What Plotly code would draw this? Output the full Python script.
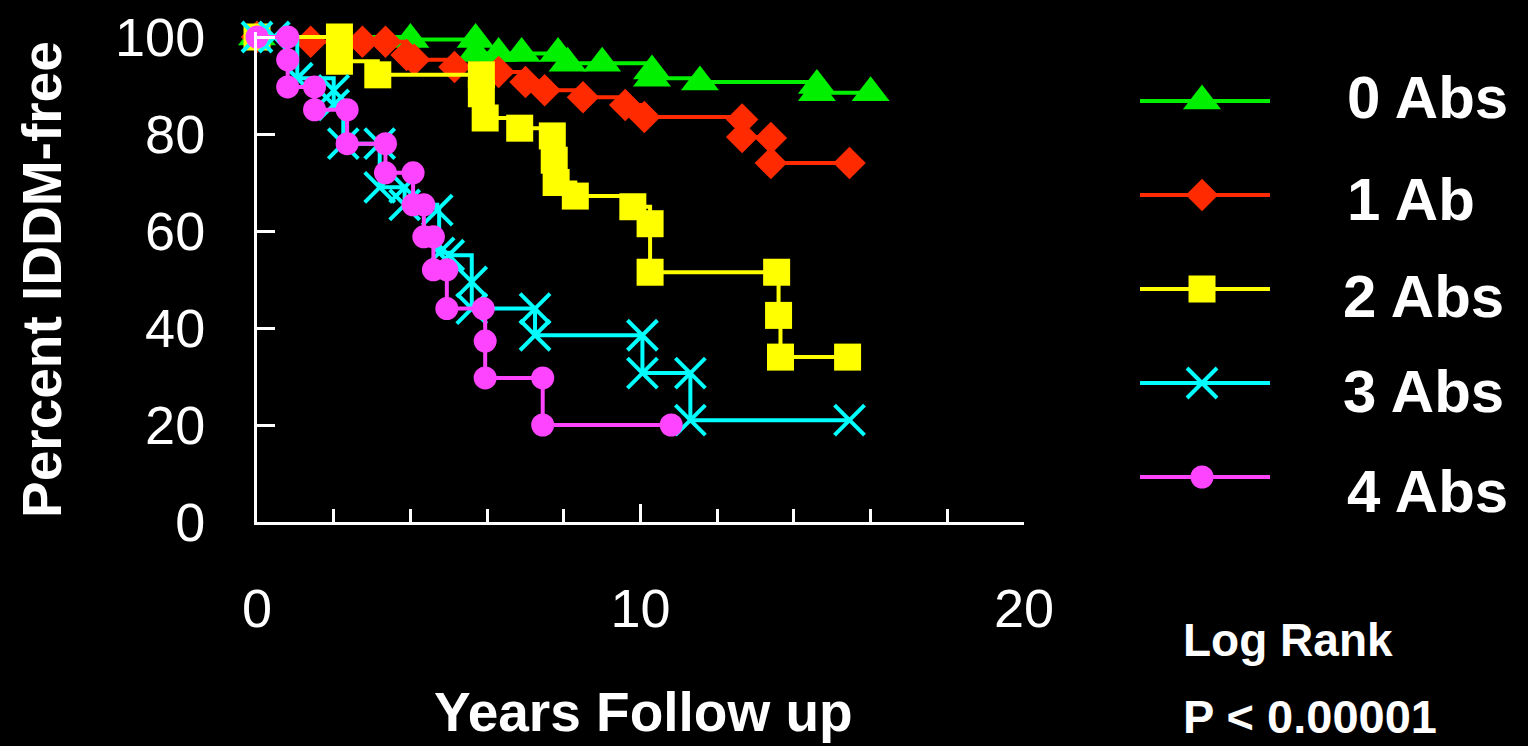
import plotly.graph_objects as go

# Kaplan-Meier style step curves: years of follow-up vs percent IDDM-free
years_0 = [0, 4.0, 5.7, 5.7, 6.3, 6.9, 7.85, 8.1, 9.0, 10.3, 10.3, 11.55, 14.6, 14.6, 16.0]
pct_0 = [100, 99.5, 99.5, 96.6, 96.6, 96.6, 96.6, 94.6, 94.6, 93.0, 91.5, 90.7, 90.0, 88.5, 88.5]

years_1 = [0, 1.4, 2.75, 3.35, 3.9, 4.1, 5.15, 6.3, 7.0, 7.5, 8.5, 9.6, 10.1, 12.65, 12.65, 13.4, 13.4, 15.45]
pct_1 = [100, 99, 99, 99, 96.3, 95.3, 93.8, 92.8, 90.7, 89, 87.6, 86, 83.5, 83, 79.4, 79.2, 74, 74]

years_2 = [0, 2.15, 2.15, 3.15, 5.85, 5.85, 5.95, 6.85, 7.7, 7.75, 7.8, 8.3, 9.8, 10.25, 10.25, 13.55, 13.6, 13.65, 15.4]
pct_2 = [100, 100, 95, 92.2, 92.2, 88.3, 83.3, 81.2, 79.6, 74.6, 70, 67.2, 65, 61.5, 51.5, 51.5, 42.6, 34, 34]

years_3 = [0, 0.45, 1.05, 2.0, 2.0, 2.25, 3.2, 3.2, 3.85, 3.85, 4.7, 4.75, 5.0, 5.6, 5.6, 7.25, 7.25, 10.05, 10.05, 11.3, 11.3, 15.45]
pct_3 = [100, 100, 91.5, 89, 86, 78, 78, 69, 69, 65.4, 64.3, 55.5, 55, 49.5, 44, 44, 38.5, 38.5, 30.7, 30.7, 21, 21]

years_4 = [0, 0.8, 0.8, 0.8, 1.5, 1.5, 2.35, 2.35, 3.35, 3.35, 4.07, 4.07, 4.35, 4.35, 4.6, 4.6, 4.95, 4.95, 5.9, 5.95, 5.95, 7.45, 7.45, 10.8]
pct_4 = [100, 100, 95.3, 89.7, 89.7, 85, 85, 78, 78, 72, 72, 65.4, 65.4, 58.8, 58.8, 52, 52, 44, 44, 37.3, 29.7, 29.7, 20, 20]

group_names = ["0 Abs", "1 Ab", "2 Abs", "3 Abs", "4 Abs"]
x_ticks = [0, 10, 20]
y_ticks = [0, 20, 40, 60, 80, 100]

W, H = 1528, 746
FONT = "Liberation Sans, Arial, Helvetica, sans-serif"

styles = [
    dict(color="#00f000", symbol="triangle-up", size=33, lw=0),
    dict(color="#ff2a00", symbol="diamond", size=25, lw=0),
    dict(color="#ffff00", symbol="square", size=27, lw=0),
    dict(color="#00ffff", symbol="x-thin", size=30, lw=4),
    dict(color="#ff44ff", symbol="circle", size=23, lw=0),
]
series = [(years_0, pct_0), (years_1, pct_1), (years_2, pct_2), (years_3, pct_3), (years_4, pct_4)]


def px_x(p):
    return p / W


def px_y(p):
    return 1 - p / H


fig = go.Figure()

for (xs, ys), st, name in zip(series, styles, group_names):
    fig.add_trace(go.Scatter(
        x=xs, y=ys, mode="lines+markers", name=name,
        line=dict(color=st["color"], width=4, shape="hv"),
        marker=dict(symbol=st["symbol"], size=st["size"], color=st["color"],
                    line=dict(color=st["color"], width=st["lw"])),
        cliponaxis=False, showlegend=False,
    ))

# hand-built key on its own small axis pair
for i, (st, name) in enumerate(zip(styles, group_names)):
    fig.add_trace(go.Scatter(
        x=[0, 1], y=[i, i], mode="lines", xaxis="x2", yaxis="y2",
        line=dict(color=st["color"], width=4), showlegend=False, hoverinfo="skip",
    ))
    fig.add_trace(go.Scatter(
        x=[0.477], y=[i], mode="markers", xaxis="x2", yaxis="y2",
        marker=dict(symbol=st["symbol"], size=st["size"], color=st["color"],
                    line=dict(color=st["color"], width=st["lw"])),
        showlegend=False, cliponaxis=False, hoverinfo="skip",
    ))

label_rows = [98, 200, 297, 391, 491]
label_left = [1345, 1345, 1341, 1341, 1345]
annotations = []
for name, yy, xx in zip(group_names, label_rows, label_left):
    annotations.append(dict(
        text=f"<b>{name}</b>", x=px_x(xx), y=px_y(yy), xref="paper", yref="paper",
        xanchor="left", yanchor="middle", showarrow=False,
        font=dict(family=FONT, size=60, color="white"),
    ))

annotations += [
    dict(text="<b>Percent IDDM-free</b>", x=px_x(42), y=px_y(280), xref="paper", yref="paper",
         textangle=-90, xanchor="center", yanchor="middle", showarrow=False,
         font=dict(family=FONT, size=55, color="white")),
    dict(text="<b>Years Follow up</b>", x=px_x(643), y=px_y(712), xref="paper", yref="paper",
         xanchor="center", yanchor="middle", showarrow=False,
         font=dict(family=FONT, size=55, color="white")),
    dict(text="<b>Log Rank</b>", x=px_x(1181), y=px_y(640), xref="paper", yref="paper",
         xanchor="left", yanchor="middle", showarrow=False,
         font=dict(family=FONT, size=46, color="white")),
    dict(text="<b>P < 0.00001</b>", x=px_x(1181), y=px_y(716), xref="paper", yref="paper",
         xanchor="left", yanchor="middle", showarrow=False,
         font=dict(family=FONT, size=47, color="white")),
]

axis_common = dict(showgrid=False, zeroline=False, showline=True, linecolor="white",
                   linewidth=3, ticks="inside", tickcolor="white", tickwidth=3,
                   automargin=False,
                   tickfont=dict(family=FONT, size=54, color="white"))

# 100 % sits at pixel row 37 and 0 % at 522; a little headroom keeps top lines unclipped
y_top = 101
y_top_px = 522 - (522 - 37) * y_top / 100

fig.update_layout(
    width=W, height=H, template="none",
    paper_bgcolor="black", plot_bgcolor="black",
    margin=dict(l=0, r=0, t=0, b=0),
    showlegend=False,
    xaxis=dict(domain=[px_x(257), px_x(1024)], range=[0, 20],
               tickvals=x_ticks, ticktext=[str(v) for v in x_ticks],
               ticklen=18, ticklabelstandoff=37,
               minor=dict(dtick=2, ticks="inside", ticklen=13, tickcolor="white", tickwidth=3),
               **axis_common),
    yaxis=dict(domain=[px_y(522), px_y(y_top_px)], range=[0, y_top],
               tickvals=y_ticks, ticktext=[str(v) for v in y_ticks],
               ticklen=18, ticklabelstandoff=38,
               **axis_common),
    xaxis2=dict(domain=[px_x(1140), px_x(1270)], range=[0, 1], visible=False, anchor="y2"),
    yaxis2=dict(domain=[px_y(477 + 0.5 * 94), px_y(101 - 0.5 * 94)], range=[4.5, -0.5],
                visible=False, anchor="x2"),
    annotations=annotations,
)

fig.write_html("out.html")
